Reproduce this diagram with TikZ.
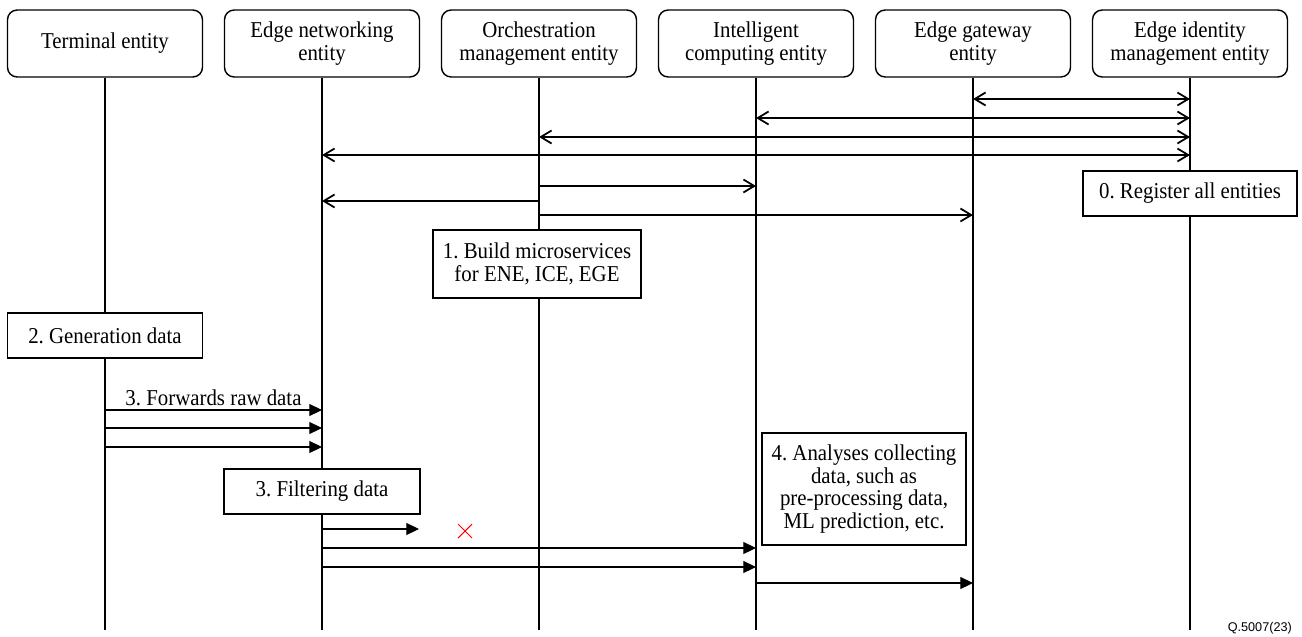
\documentclass[tikz,border=0pt]{standalone}
\usepackage{fontspec}
\setmainfont[FakeStretch=0.92]{Liberation Serif}
\newfontfamily\figfont{Liberation Sans}
\usetikzlibrary{arrows.meta}
\frenchspacing

\tikzset{
	entity/.style={draw, line width=0.8pt, rounded corners=5.5pt, fill=white, align=center,
		minimum width=3.9cm, minimum height=1.34cm, inner sep=0pt},
	stepbox/.style={draw, line width=0.8pt, fill=white, align=center, inner sep=0pt},
	life/.style={line width=0.6pt},
	reg/.style={line width=1pt, {Straight Barb[length=6.2pt, width=7.4pt]}-{Straight Barb[length=6.2pt, width=7.4pt]}},
	msg/.style={line width=1pt, -{Straight Barb[length=6.2pt, width=7.4pt]}},
	data/.style={line width=0.6pt, -{Triangle[length=7.2pt, width=6.8pt]}},
}

\begin{document}
\begin{tikzpicture}[x=0.02cm, y=-0.02cm, font=\fontsize{12.9}{12.8}\selectfont]
	\useasboundingbox (0,0) rectangle (1302,636);

	% entities and their lifelines
	\foreach \nm/\lbl [count=\i from 0] in {term/Terminal entity, ene/Edge networking\\entity,
			ome/Orchestration\\management entity, ice/Intelligent\\computing entity,
			ege/Edge gateway\\entity, eime/Edge identity\\management entity} {
		\node[entity] (\nm) at (105+217*\i, 43.5) {\lbl};
		\draw[life] (\nm.south) -- (\nm |- 0,630);
	}

	% 0. registration
	\draw[reg] (ege |- 0,99) -- (eime |- 0,99);
	\draw[reg] (ice |- 0,118) -- (eime |- 0,118);
	\draw[reg] (ome |- 0,137) -- (eime |- 0,137);
	\draw[reg] (ene |- 0,155) -- (eime |- 0,155);
	\node[stepbox, minimum width=4.28cm, minimum height=0.9cm] (register) at (1190,193.5) {0. Register all entities};

	% 1. microservices
	\draw[msg] (ome |- 0,186) -- (ice |- 0,186);
	\draw[msg] (ome |- 0,201) -- (ene |- 0,201);
	\draw[msg] (ome |- 0,215) -- (ege |- 0,215);
	\node[stepbox, minimum width=4.16cm, minimum height=1.36cm] (build) at (537,264) {1. Build microservices\\for ENE, ICE, EGE};

	% 2. and 3. data
	\node[stepbox, minimum width=3.9cm, minimum height=0.9cm] (gen) at (105,335.5) {2. Generation data};
	\draw[data] (term |- 0,410) -- node[above, inner sep=2pt] (fwd) {3. Forwards raw data} (ene |- 0,410);
	\draw[data] (term |- 0,428) -- (ene |- 0,428);
	\draw[data] (term |- 0,447) -- (ene |- 0,447);
	\node[stepbox, minimum width=3.92cm, minimum height=0.9cm] (filter) at (322,491.5) {3. Filtering data};

	\coordinate (drop) at (419,529);
	\draw[data] (ene |- drop) -- (drop);
	\draw[red, line width=0.6pt] (458,524) -- (472,538) (458,538) -- (472,524);
	\draw[data] (ene |- 0,548) -- (ice |- 0,548);
	\draw[data] (ene |- 0,567) -- (ice |- 0,567);

	% 4. analysis
	\node[stepbox, minimum width=4.08cm, minimum height=2.24cm] (analyse) at (864,489)
		{4. Analyses collecting\\data, such as\\pre-processing data,\\ML prediction, etc.};
	\draw[data] (ice |- 0,583) -- (ege |- 0,583);

	\node[anchor=base east, font=\figfont\fontsize{7.2}{8}\selectfont] (fig) at (1298,631) {Q.5007(23)};
\end{tikzpicture}
\end{document}
